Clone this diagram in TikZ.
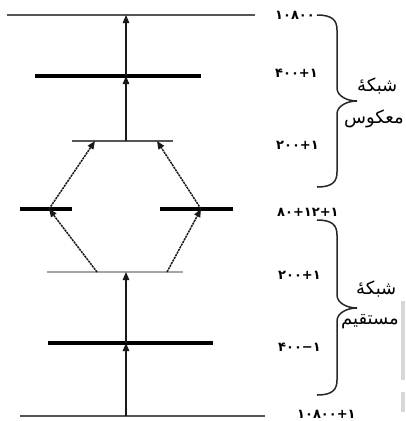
\documentclass[tikz,border=0pt]{standalone}
\usepackage{fontspec}
\usepackage{tikz}
\usetikzlibrary{arrows.meta}
\newfontfamily\arabicfont[Script=Arabic]{DejaVu Sans}
\newfontfamily\digitfont{DejaVu Sans}
\TeXXeTstate=1
\definecolor{lvlc}{RGB}{85,85,85}
\definecolor{palec}{RGB}{165,165,165}
\definecolor{scanc}{RGB}{215,215,215}

\begin{document}
\begin{tikzpicture}[x=1pt, y=-1pt,
  thinlvl/.style={draw=lvlc, line width=1.8pt},
  boldlvl/.style={draw=black, line width=3.6pt},
  midlvl/.style={draw=lvlc, line width=2pt},
  palelvl/.style={draw=palec, line width=1.6pt},
  up/.style={-{Triangle[length=8pt, width=6.5pt]}, line width=1.2pt, draw=black!90},
  hop/.style={up, line width=1.5pt, dash pattern=on 2.2pt off 0.8pt},
  num/.style={font=\digitfont\bfseries\fontsize{13}{15}\selectfont, anchor=west, inner sep=0pt},
  word/.style={font=\arabicfont\fontsize{18}{21}\selectfont, anchor=west, inner sep=0pt},
  brc/.style={draw=black!85, line width=1.5pt}]
  \useasboundingbox (0,0) rectangle (406,421);
  \fill[scanc] (401,301) rectangle (405,380);
  \fill[scanc] (401,392) rectangle (405,412);
  \draw[thinlvl] (7,15) -- (255,15);
  \draw[boldlvl] (35,76) -- (201,76);
  \draw[midlvl] (72,141) -- (173,141);
  \draw[boldlvl] (20,209) -- (72,209);
  \draw[boldlvl] (160,209) -- (233,209);
  \draw[palelvl] (47,272) -- (183,272);
  \draw[boldlvl] (48,343) -- (213,343);
  \draw[thinlvl] (20,416) -- (265,416);
  \coordinate (b0) at (126,416);
  \coordinate (b1) at (126,343);
  \coordinate (b2) at (126,272);
  \coordinate (bl) at (97,272);
  \coordinate (br) at (167,272);
  \coordinate (ml) at (49,209);
  \coordinate (mr) at (201,209);
  \coordinate (t0) at (95,141);
  \coordinate (t1) at (157,141);
  \coordinate (tc) at (126,141);
  \coordinate (t2) at (126,76);
  \coordinate (t3) at (126,15);
  \draw[up] (b0) -- (b1);
  \draw[up] (b1) -- (b2);
  \draw[hop] (bl) -- (ml);
  \draw[hop] (br) -- (mr);
  \draw[hop] (ml) -- (t0);
  \draw[hop] (mr) -- (t1);
  \draw[up] (tc) -- (t2);
  \draw[up] (t2) -- (t3);
  \node[num] (n1) at (275,15) {۱۰۸۰۰};
  \node[num] (n2) at (275,73) {۴۰۰+۱};
  \node[num] (n3) at (276,145) {۲۰۰+۱};
  \node[num] (n4) at (277,212) {۸۰+۱۲+۱};
  \node[num] (n5) at (278,275) {۲۰۰+۱};
  \node[num] (n6) at (278,347) {۴۰۰−۱};
  \node[num] (n7) at (297,414) {۱۰۸۰۰+۱};
  \draw[brc] (317,15) .. controls (332,15) and (337,20) .. (337,30) -- (337,88)
    .. controls (337,96) and (347,101) .. (357,101)
    .. controls (347,101) and (337,106) .. (337,114) -- (337,172)
    .. controls (337,182) and (332,187) .. (317,187);
  \draw[brc] (317,220) .. controls (332,220) and (337,225) .. (337,235) -- (337,295)
    .. controls (337,303) and (347,308) .. (357,308)
    .. controls (347,308) and (337,313) .. (337,321) -- (337,380)
    .. controls (337,390) and (332,395) .. (317,395);
  \node[word] (inv1) at (357,86) {\beginR شبکهٔ\endR};
  \node[word] (inv2) at (344,119) {\beginR معکوس\endR};
  \node[word] (dir1) at (356,289) {\beginR شبکهٔ\endR};
  \node[word] (dir2) at (341,322) {\beginR مستقیم\endR};
\end{tikzpicture}
\end{document}
